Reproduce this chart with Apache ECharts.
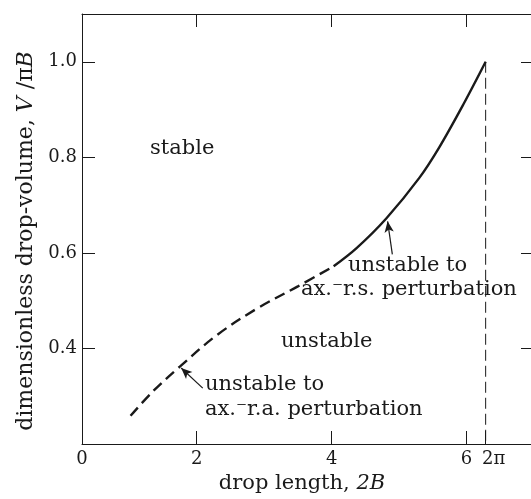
<!DOCTYPE html>
<html><head><meta charset="utf-8">
<script src="https://cdn.jsdelivr.net/npm/echarts@6/dist/echarts.min.js"></script>
<style>html,body{margin:0;padding:0;background:#fff}#c{width:531px;height:499px}</style>
</head><body><div id="c"></div>
<script>
// axisymmetric (ax.-r.a.) stability limit, dashed
const raLimitX = [1.02, 1.35, 1.75, 2.3, 2.9, 3.5, 4.03];
const raLimitY = [0.259, 0.31, 0.362, 0.428, 0.484, 0.530, 0.572];
// ax.-r.s. stability limit, solid
const rsLimitX = [4.03, 4.37, 4.81, 5.30, 5.60, 5.95, 6.2832];
const rsLimitY = [0.572, 0.610, 0.672, 0.757, 0.822, 0.910, 1.0];
// Rayleigh limit: drop length 2π
const rayleighX = [6.2832, 6.2832];
const rayleighY = [1.0, 0.2];
// tick values / labels
const xTickValues = [0.3, 2, 4, 6, 6.2832];
const xTickLabels = ['0', '2', '4', '6', '2π'];
const xTopTicks = [2, 4, 6];
const yTickValues = [0.4, 0.6, 0.8, 1.0];
const yTickLabels = ['0.4', '0.6', '0.8', '1.0'];

const zip = (xs, ys) => xs.map((x, i) => [x, ys[i]]);
const FONT = 'DejaVu Serif';
const INK = '#1a1a1a';
const TXT = '21px "DejaVu Serif"';

const chart = echarts.init(document.getElementById('c'), null, {renderer: 'canvas'});
const axisCommon = {
  axisLine: {show: true, onZero: false, lineStyle: {color: INK, width: 1}},
  splitLine: {show: false},
};
chart.setOption({
  animation: false,
  backgroundColor: '#fff',
  grid: {left: 82, right: -3, top: 14, bottom: 55, outerBoundsMode: 'none', containLabel: false},
  xAxis: [
    Object.assign({
      type: 'value', min: 0.3, max: 7, position: 'bottom',
      name: 'drop length, {i|2B}', nameLocation: 'middle', nameGap: 24,
      nameTextStyle: {fontFamily: FONT, fontSize: 21, color: INK, padding: [0, 12, 0, 0],
        rich: {i: {fontFamily: FONT, fontSize: 21, fontStyle: 'italic', color: INK}}},
      axisTick: {show: true, inside: true, length: 13, customValues: [2, 4, 6, 6.2832], lineStyle: {color: INK}},
      axisLabel: {show: true, customValues: xTickValues, margin: 6, fontFamily: FONT, fontSize: 18, color: INK,
        formatter: v => {
          const i = xTickValues.findIndex(t => Math.abs(t - v) < 1e-6);
          const s = i >= 0 ? xTickLabels[i] : '';
          return s === '2π' ? '{p|2π}' : s;
        },
        rich: {p: {fontFamily: FONT, fontSize: 18, color: INK, padding: [0, 0, 0, 16]}}}
    }, axisCommon),
    Object.assign({
      type: 'value', min: 0.3, max: 7, position: 'top',
      axisTick: {show: true, inside: true, length: 13, customValues: xTopTicks, lineStyle: {color: INK}},
      axisLabel: {show: false}
    }, axisCommon)
  ],
  yAxis: [
    Object.assign({
      type: 'value', min: 0.2, max: 1.1, position: 'left',
      name: 'dimensionless drop-volume, {i|V} /π{i|B}', nameLocation: 'middle', nameGap: 45,
      nameTextStyle: {fontFamily: FONT, fontSize: 22, color: INK, padding: [0, 24, 0, 0],
        rich: {i: {fontFamily: FONT, fontSize: 22, fontStyle: 'italic', color: INK}}},
      axisTick: {show: true, inside: true, length: 13, customValues: yTickValues, lineStyle: {color: INK}},
      axisLabel: {show: true, customValues: yTickValues, margin: 5, fontFamily: FONT, fontSize: 18, color: INK,
        formatter: v => {
          const i = yTickValues.findIndex(t => Math.abs(t - v) < 1e-6);
          return i >= 0 ? yTickLabels[i] : '';
        }}
    }, axisCommon),
    Object.assign({
      type: 'value', min: 0.2, max: 1.1, position: 'right',
      axisTick: {show: true, inside: true, length: 13, customValues: yTickValues, lineStyle: {color: INK}},
      axisLabel: {show: false}
    }, axisCommon)
  ],
  series: [
    {
      type: 'line', data: zip(raLimitX, raLimitY), smooth: 0.35, showSymbol: false, silent: true,
      lineStyle: {color: INK, width: 2.4, type: [11, 6]},
      markLine: {
        silent: true, symbol: ['none', 'arrow'], symbolSize: [7, 11],
        lineStyle: {color: INK, width: 1.2, type: 'solid'}, label: {show: false},
        data: [
          [{coord: [2.09, 0.317]}, {coord: [1.77, 0.359]}],
          [{coord: [4.90, 0.597]}, {coord: [4.83, 0.666]}]
        ]
      }
    },
    {
      type: 'line', data: zip(rsLimitX, rsLimitY), smooth: 0.35, showSymbol: false, silent: true,
      lineStyle: {color: INK, width: 2.4, type: 'solid'}
    },
    {
      type: 'line', data: zip(rayleighX, rayleighY), showSymbol: false, silent: true,
      lineStyle: {color: INK, width: 1, type: [11, 5]}
    }
  ],
  graphic: [
    {type: 'text', left: 150, top: 138, silent: true,
      style: {text: 'stable', font: TXT, fill: INK}},
    {type: 'text', left: 281, top: 331, silent: true,
      style: {text: 'unstable', font: TXT, fill: INK}},
    {type: 'text', left: 205, top: 372, silent: true,
      style: {text: 'unstable to\nax.\u207Br.a. perturbation', font: TXT, fill: INK, lineHeight: 25}},
    {type: 'text', left: 348, top: 255, silent: true,
      style: {text: 'unstable to', font: TXT, fill: INK}},
    {type: 'text', left: 301, top: 279, silent: true,
      style: {text: 'ax.\u207Br.s. perturbation', font: TXT, fill: INK}}
  ]
});
</script>
</body></html>
